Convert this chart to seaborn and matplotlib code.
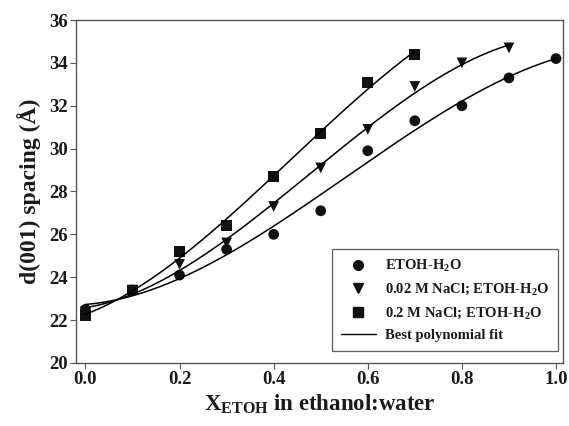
import numpy as np
import pandas as pd
import matplotlib
matplotlib.use("Agg")
import matplotlib.pyplot as plt
import seaborn as sns
from matplotlib.lines import Line2D

sns.set_style("ticks")
plt.rcParams['font.family'] = ['Liberation Serif', 'DejaVu Serif']
plt.rcParams['font.weight'] = 'bold'
plt.rcParams['mathtext.fontset'] = 'custom'
plt.rcParams['mathtext.rm'] = 'Liberation Serif:bold'
plt.rcParams['mathtext.bf'] = 'Liberation Serif:bold'

x_etoh = [0.0, 0.1, 0.2, 0.3, 0.4, 0.5, 0.6, 0.7, 0.8, 0.9, 1.0]
d_etoh = [22.5, 23.4, 24.1, 25.3, 26.0, 27.1, 29.9, 31.3, 32.0, 33.3, 34.2]

x_nacl002 = [0.0, 0.1, 0.2, 0.3, 0.4, 0.5, 0.6, 0.7, 0.8, 0.9]
d_nacl002 = [22.4, 23.4, 24.6, 25.6, 27.3, 29.1, 30.9, 32.9, 34.0, 34.7]

x_nacl02 = [0.0, 0.1, 0.2, 0.3, 0.4, 0.5, 0.6, 0.7]
d_nacl02 = [22.2, 23.4, 25.2, 26.4, 28.7, 30.7, 33.1, 34.4]

labels = ["ETOH-H$_2$O", "0.02 M NaCl; ETOH-H$_2$O", "0.2 M NaCl; ETOH-H$_2$O"]
markers = ["o", "v", "s"]
fit_label = "Best polynomial fit"
x_ticks = [0.0, 0.2, 0.4, 0.6, 0.8, 1.0]
y_ticks = [20, 22, 24, 26, 28, 30, 32, 34, 36]

series = [(x_etoh, d_etoh), (x_nacl002, d_nacl002), (x_nacl02, d_nacl02)]

pts = pd.concat([pd.DataFrame({"x": xs, "d": ds, "series": lab})
                 for (xs, ds), lab in zip(series, labels)], ignore_index=True)

fits = []
for (xs, ds), lab in zip(series, labels):
    c = np.polyfit(xs, ds, 3)
    xf = np.linspace(min(xs), max(xs), 200)
    fits.append(pd.DataFrame({"x": xf, "d": np.polyval(c, xf), "series": lab}))
fits = pd.concat(fits, ignore_index=True)

fig = plt.figure(figsize=(5.69, 4.26), dpi=100)
ax = fig.add_axes([0.1336, 0.148, 0.856, 0.805])

sns.lineplot(data=fits, x="x", y="d", units="series", estimator=None,
             color="black", lw=1.1, ax=ax, legend=False, sort=False)
sns.scatterplot(data=pts, x="x", y="d", style="series", markers=dict(zip(labels, markers)),
                color="#111111", s=60, edgecolor="none", ax=ax, legend=False)

ax.set_xlim(-0.02, 1.015)
ax.set_ylim(20, 36)
ax.set_xticks(x_ticks)
ax.set_xticklabels([f"{t:.1f}" for t in x_ticks], fontweight="bold")
ax.set_yticks(y_ticks)
ax.set_yticklabels([str(t) for t in y_ticks], fontweight="bold")
ax.tick_params(axis="both", labelsize=13.5, direction="out", length=4, width=0.8,
               color="#555555", labelcolor="#1a1a1a", pad=2)
for sp in ax.spines.values():
    sp.set_color("#555555")
    sp.set_linewidth(1.0)

ax.set_xlabel("X$_{\\mathrm{ETOH}}$ in ethanol:water", fontsize=16.5, fontweight="bold",
              labelpad=3, color="#1a1a1a")
ax.set_ylabel("d(001) spacing (Å)", fontsize=17, fontweight="bold", labelpad=6, color="#1a1a1a")

handles = [Line2D([], [], marker=m, ls="none", color="#111111", markersize=7) for m in markers]
handles.append(Line2D([], [], color="black", lw=1.0))
leg = ax.legend(handles, labels + [fit_label], loc="lower right",
                bbox_to_anchor=(0.99, 0.035),
                prop={"weight": "bold", "size": 10.5}, frameon=True, fancybox=False,
                borderpad=0.6, labelspacing=0.5, handlelength=2.4, handletextpad=0.6,
                borderaxespad=0.0)
leg.get_frame().set_edgecolor("#333333")
leg.get_frame().set_linewidth(0.9)
for t in leg.get_texts():
    t.set_color("#1a1a1a")

fig.savefig("out.png", dpi=100)
